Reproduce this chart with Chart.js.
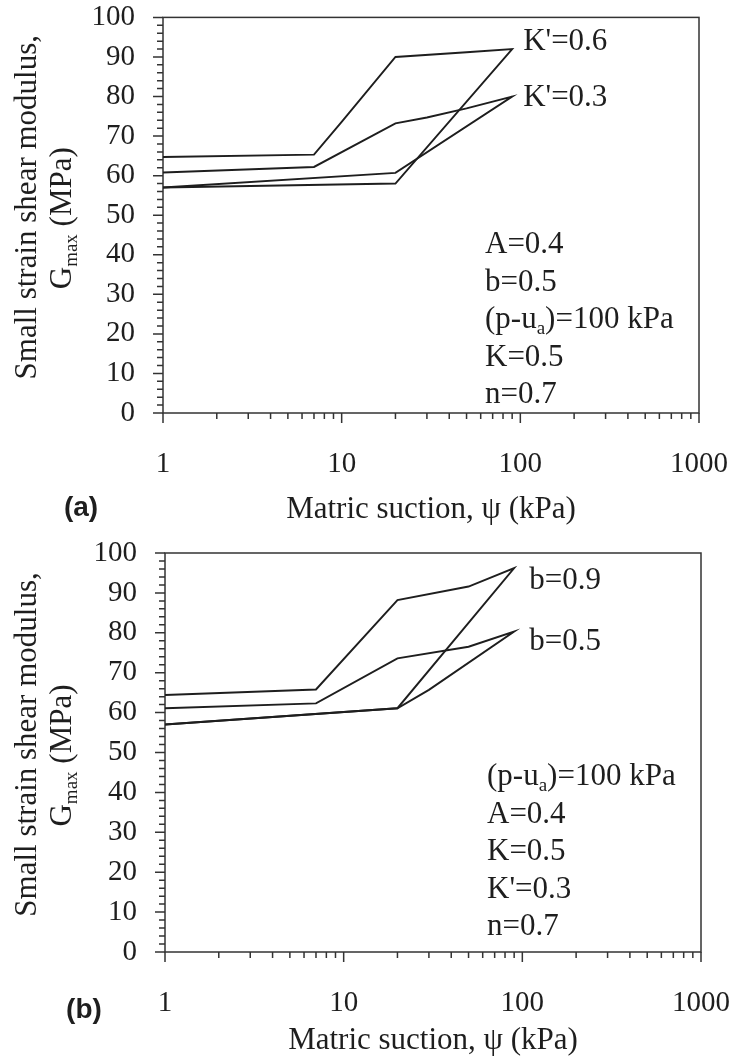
<!DOCTYPE html>
<html>
<head>
<meta charset="utf-8">
<script src="https://cdn.jsdelivr.net/npm/chart.js@4.4.1/dist/chart.umd.min.js"></script>
<style>
  html, body { margin: 0; padding: 0; background: #fff; }
  .panel { position: absolute; left: 0; }
  #wrapA { top: 0; }
  #wrapB { top: 530px; }
</style>
</head>
<body>
<div class="panel" id="wrapA"><canvas id="chartA" width="735" height="530"></canvas></div>
<div class="panel" id="wrapB"><canvas id="chartB" width="735" height="529"></canvas></div>
<script>
// ---- Panel (a): influence of K' ----
const kp06Suction = [1, 20, 90, 50, 20, 10, 7, 1];
const kp06Gmax    = [57, 58, 92, 91.2, 90, 73.6, 65.3, 64.7];
const kp03Suction = [1, 20, 90, 50, 30, 20, 7, 1];
const kp03Gmax    = [57, 60.7, 80, 77, 74.7, 73.2, 62.2, 60.8];
const seriesLabelsA = ["K'=0.6", "K'=0.3"];
const notesA = ['A=0.4', 'b=0.5', '(p-u_a)=100 kPa', 'K=0.5', 'n=0.7'];

// ---- Panel (b): influence of b ----
const b09Suction = [1, 20, 90, 50, 20, 7, 1];
const b09Gmax    = [57, 61.1, 96.2, 91.6, 88.2, 65.8, 64.4];
const b05Suction = [1, 20, 30, 90, 50, 20, 7, 1];
const b05Gmax    = [57, 61.1, 65.7, 80.3, 76.5, 73.6, 62.3, 61.1];
const seriesLabelsB = ['b=0.9', 'b=0.5'];
const notesB = ['(p-u_a)=100 kPa', 'A=0.4', 'K=0.5', "K'=0.3", 'n=0.7'];

// ---- Shared axis text ----
const gmaxTicks = [0, 10, 20, 30, 40, 50, 60, 70, 80, 90, 100];
const suctionTicks = [1, 10, 100, 1000];
const yTitleLines = ['Small strain shear modulus,', 'G_{max} (MPa)'];
const xTitleText = 'Matric suction, \u03c8 (kPa)';

const SERIF = "'Liberation Serif', 'Times New Roman', serif";
const INK = '#1e1e1e';

function toPoints(xs, ys) {
  return xs.map((v, i) => ({ x: v, y: ys[i] }));
}

// split "G_{max}" / "u_a" into normal and subscript pieces
function parseRich(str) {
  const parts = [];
  const re = /_\{([^}]*)\}|_(\w)/g;
  let last = 0, m;
  while ((m = re.exec(str))) {
    if (m.index > last) parts.push({ t: str.slice(last, m.index) });
    parts.push({ t: m[1] || m[2], sub: true });
    last = re.lastIndex;
  }
  if (last < str.length) parts.push({ t: str.slice(last) });
  return parts;
}

function drawRich(ctx, str, x, y, size, align) {
  const parts = parseRich(str);
  const subSize = Math.round(size * 0.62);
  let total = 0;
  parts.forEach(p => {
    ctx.font = `${p.sub ? subSize : size}px ${SERIF}`;
    p.w = ctx.measureText(p.t).width;
    total += p.w;
  });
  let cx = align === 'center' ? x - total / 2 : (align === 'right' ? x - total : x);
  ctx.textAlign = 'left';
  ctx.textBaseline = 'middle';
  parts.forEach(p => {
    ctx.font = `${p.sub ? subSize : size}px ${SERIF}`;
    ctx.fillText(p.t, cx, p.sub ? y + size * 0.3 : y);
    cx += p.w;
  });
}

const decor = {
  id: 'decor',
  beforeDatasetsDraw(chart, args, o) {
    const { ctx, chartArea: a, scales: { x, y } } = chart;
    ctx.save();
    ctx.strokeStyle = '#333';
    ctx.lineWidth = 1.5;
    ctx.strokeRect(a.left, a.top, a.right - a.left, a.bottom - a.top);
    ctx.beginPath();
    for (let v = 0; v <= 100; v += 2) {
      const py = y.getPixelForValue(v);
      const len = v % 10 === 0 ? 10 : 6;
      ctx.moveTo(a.left - len, py);
      ctx.lineTo(a.left, py);
    }
    for (let d = 1; d <= 1000; d *= 10) {
      for (let m = 1; m <= 9; m++) {
        const v = d * m;
        if (v > 1000) break;
        const px = x.getPixelForValue(v);
        const len = m === 1 ? 10 : 6;
        ctx.moveTo(px, a.bottom);
        ctx.lineTo(px, a.bottom + len);
      }
    }
    ctx.stroke();
    ctx.restore();
  },
  afterDraw(chart, args, o) {
    const { ctx, chartArea: a, scales: { x, y } } = chart;
    ctx.save();
    ctx.fillStyle = INK;
    // y-axis title, two rotated lines
    const midY = (a.top + a.bottom) / 2;
    o.yTitle.forEach((line, i) => {
      ctx.save();
      ctx.translate(o.yTitleX[i], midY + o.yTitleDy[i]);
      ctx.rotate(-Math.PI / 2);
      drawRich(ctx, line, 0, 0, o.textSize, 'center');
      ctx.restore();
    });
    // curve labels next to the loop tips
    chart.data.datasets.forEach((ds, i) => {
      let tip = ds.data[0];
      ds.data.forEach(p => { if (p.x > tip.x) tip = p; });
      const px = x.getPixelForValue(tip.x) + o.labelDx[i];
      const py = y.getPixelForValue(tip.y) + o.labelDy[i];
      drawRich(ctx, o.seriesLabels[i], px, py, o.textSize, 'left');
    });
    // parameter block
    o.notes.forEach((line, i) => {
      drawRich(ctx, line, o.notesX, o.notesY + i * o.notesGap, o.textSize, 'left');
    });
    // panel tag
    ctx.font = `bold ${o.tagSize}px 'Liberation Sans', Arial, sans-serif`;
    ctx.textAlign = 'center';
    ctx.textBaseline = 'middle';
    ctx.fillText(o.tag, o.tagX, o.tagY);
    ctx.restore();
  }
};

function makeChart(canvasId, sets, box, deco) {
  return new Chart(document.getElementById(canvasId), {
    type: 'scatter',
    data: {
      datasets: sets.map(s => ({
        data: toPoints(s[0], s[1]),
        showLine: true,
        borderColor: INK,
        borderWidth: 1.9,
        pointRadius: 0,
        tension: 0,
        fill: false
      }))
    },
    options: {
      responsive: false,
      animation: false,
      events: [],
      layout: { padding: { top: box.top, right: box.right, left: 0, bottom: 0 } },
      plugins: { legend: { display: false }, tooltip: { enabled: false }, decor: deco },
      scales: {
        x: {
          type: 'logarithmic',
          min: 1, max: 1000,
          grid: { display: false, drawTicks: true, tickLength: box.xPad },
          border: { display: false },
          afterBuildTicks: s => { s.ticks = suctionTicks.map(v => ({ value: v })); },
          afterFit: s => { s.height = box.xHeight; },
          ticks: {
            autoSkip: false,
            maxRotation: 0,
            padding: 0,
            color: INK,
            font: { family: SERIF, size: 29 },
            callback: v => String(v)
          },
          title: {
            display: true,
            text: xTitleText,
            color: INK,
            font: { family: SERIF, size: 31 },
            padding: { top: 0, bottom: box.titleBottom }
          }
        },
        y: {
          min: 0, max: 100,
          grid: { display: false, drawTicks: true, tickLength: box.yPad },
          border: { display: false },
          afterBuildTicks: s => { s.ticks = gmaxTicks.map(v => ({ value: v })); },
          afterFit: s => { s.width = box.left; },
          ticks: {
            autoSkip: false,
            padding: 0,
            color: INK,
            font: { family: SERIF, size: 29 }
          }
        }
      }
    },
    plugins: [decor]
  });
}

makeChart('chartA',
  [[kp06Suction, kp06Gmax], [kp03Suction, kp03Gmax]],
  { top: 17, right: 36, left: 163, xHeight: 117, xPad: 34, yPad: 28, titleBottom: 2 },
  {
    yTitle: yTitleLines, yTitleX: [28, 63], yTitleDy: [-8, 3],
    seriesLabels: seriesLabelsA, labelDx: [11, 11], labelDy: [-7, 1],
    notes: notesA, notesX: 485, notesY: 245, notesGap: 37.5,
    textSize: 31, tag: '(a)', tagX: 81, tagY: 508, tagSize: 28
  });

makeChart('chartB',
  [[b09Suction, b09Gmax], [b05Suction, b05Gmax]],
  { top: 23, right: 34, left: 165, xHeight: 107, xPad: 34, yPad: 28, titleBottom: 0 },
  {
    yTitle: yTitleLines, yTitleX: [28, 63], yTitleDy: [-8, 3],
    seriesLabels: seriesLabelsB, labelDx: [15, 15], labelDy: [13, 10],
    notes: notesB, notesX: 487, notesY: 247, notesGap: 37.5,
    textSize: 31, tag: '(b)', tagX: 84, tagY: 480, tagSize: 28
  });
</script>
</body>
</html>
